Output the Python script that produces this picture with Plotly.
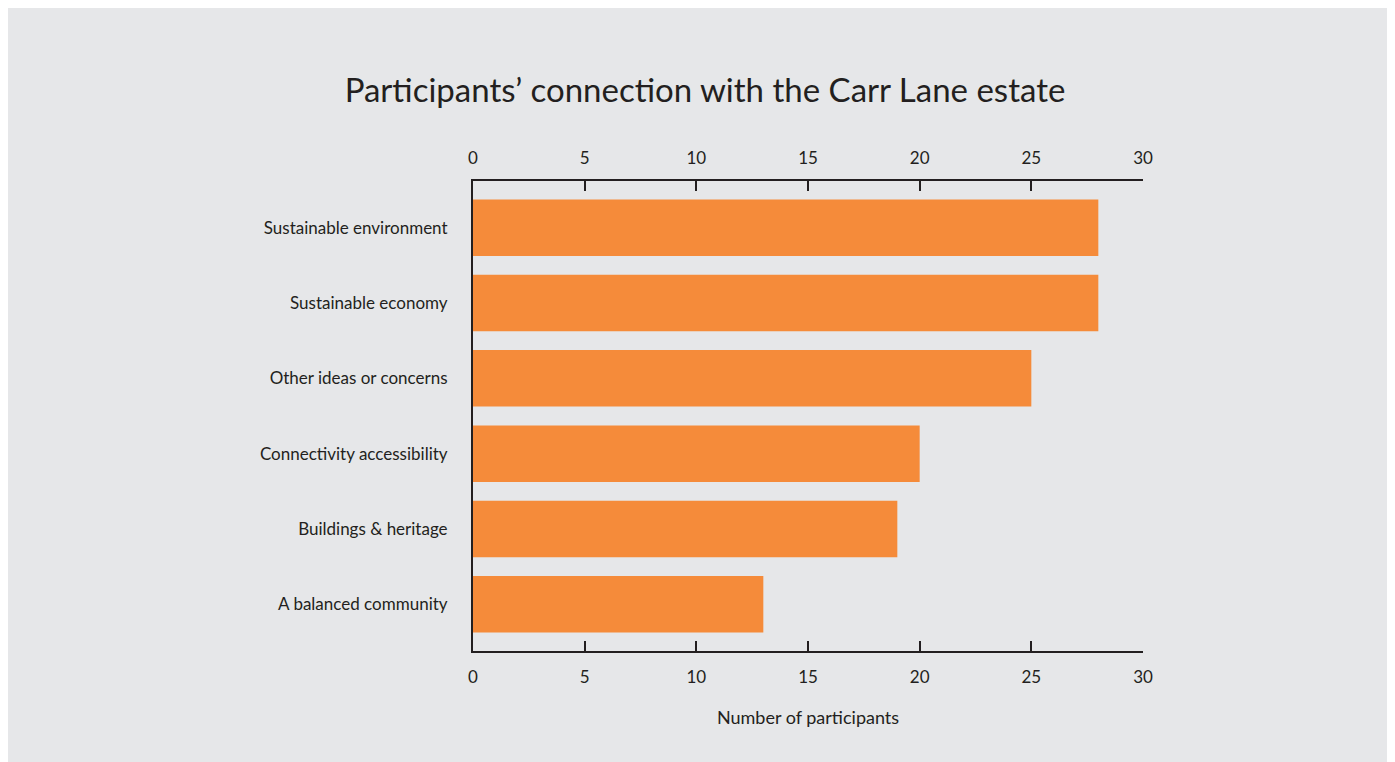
import plotly.graph_objects as go

categories = ["Sustainable environment", "Sustainable economy", "Other ideas or concerns",
              "Connectivity accessibility", "Buildings & heritage", "A balanced community"]
values = [28, 28, 25, 20, 19, 13]
tick_vals = [0, 5, 10, 15, 20, 25, 30]

BG = "#E6E7E9"
ORANGE = "#F58B3A"
INK = "#231F20"
FONT = "Lato"

W, H = 1385, 754
L, R, T, B = 465, 1135, 173, 643

fig = go.Figure()
fig.add_trace(go.Bar(y=categories, x=values, orientation="h", marker_color=ORANGE,
                     marker_line_width=0, width=0.75, hoverinfo="x+y"))
fig.add_trace(go.Scatter(x=[0], y=[categories[0]], xaxis="x2", mode="markers",
                         marker=dict(opacity=0), hoverinfo="skip", showlegend=False))

axis_common = dict(range=[0, 30], tickvals=tick_vals, ticks="inside", ticklen=10, tickwidth=2,
                   tickcolor=INK, showline=True, linewidth=2, linecolor=INK, showgrid=False,
                   zeroline=False, tickfont=dict(family=FONT, size=17, color=INK))

fig.update_layout(
    width=W, height=H,
    margin=dict(l=L, r=W - R, t=T, b=H - B, autoexpand=False),
    paper_bgcolor=BG, plot_bgcolor=BG,
    showlegend=False,
    title=dict(text="Participants’ connection with the Carr Lane estate", x=697 / W, xref="container",
               y=1 - 82 / H, yref="container", xanchor="center", yanchor="middle",
               font=dict(family=FONT, size=33, color=INK)),
    xaxis=dict(**axis_common, side="bottom", ticklabelstandoff=10,
               title=dict(text="Number of participants", standoff=25,
                          font=dict(family=FONT, size=18, color=INK))),
    xaxis2=dict(**axis_common, side="top", overlaying="x", anchor="y", matches="x", ticklabelstandoff=8),
    yaxis=dict(categoryorder="array", categoryarray=categories, range=[5.62, -0.62],
               showline=True, linewidth=2, linecolor=INK, ticks="", showgrid=False, zeroline=False,
               ticklabelstandoff=20, tickfont=dict(family=FONT, size=17, color=INK)),
    bargap=0.25,
)

fig.write_html("out.html")
